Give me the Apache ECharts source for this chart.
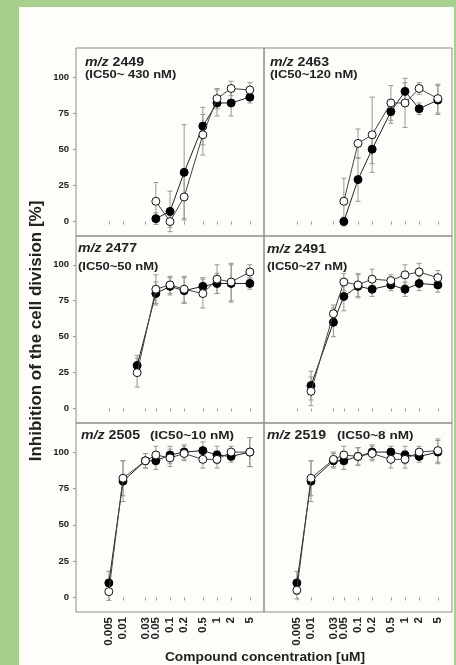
<!DOCTYPE html>
<html>
<head>
<meta charset="utf-8">
<script src="https://cdn.jsdelivr.net/npm/echarts@6/dist/echarts.min.js"></script>
<style>
  html, body { margin: 0; padding: 0; background: #a8d08d; }
  #frame { position: absolute; left: 19px; top: 7px; width: 435px; height: 658px; background: #fdfdfa; }
  #chart { position: absolute; left: 0; top: 0; width: 456px; height: 665px; }
</style>
</head>
<body>
<div id="frame"></div>
<div id="chart"></div>
<script>
// ---- data (concentration in uM, inhibition in %) ----
var xTickValues = [0.005, 0.01, 0.03, 0.05, 0.1, 0.2, 0.5, 1, 2, 5];
var xTickLabels = ['0.005', '0.01', '0.03', '0.05', '0.1', '0.2', '0.5', '1', '2', '5'];
var yTickValues = [0, 25, 50, 75, 100];

var panelNames = ['2449', '2463', '2477', '2491', '2505', '2519'];
var panelIC50 = ['(IC50~ 430 nM)', '(IC50~120 nM)', '(IC50~50 nM)', '(IC50~27 nM)', '(IC50~10 nM)', '(IC50~8 nM)'];

var c2449 = [0.05, 0.1, 0.2, 0.5, 1, 2, 5];
var f2449 = [2, 7, 34, 66, 82, 82, 86];
var fe2449 = [4, 14, 33, 13, 9, 9, 4];
var o2449 = [14, 0, 17, 60, 85, 92, 91];
var oe2449 = [13, 4, 15, 14, 7, 5, 5];

var c2463 = [0.05, 0.1, 0.2, 0.5, 1, 2, 5];
var f2463 = [0, 29, 50, 76, 90, 78, 84];
var fe2463 = [3, 15, 10, 8, 6, 4, 10];
var o2463 = [14, 54, 60, 82, 82, 92, 85];
var oe2463 = [16, 10, 26, 12, 17, 4, 10];

var c2477 = [0.02, 0.05, 0.1, 0.2, 0.5, 1, 2, 5];
var f2477 = [30, 80, 85, 82, 85, 87, 87, 87];
var fe2477 = [7, 8, 6, 9, 6, 7, 13, 4];
var o2477 = [25, 83, 86, 83, 80, 90, 88, 95];
var oe2477 = [10, 10, 6, 9, 10, 10, 13, 5];

var c2491 = [0.01, 0.03, 0.05, 0.1, 0.2, 0.5, 1, 2, 5];
var f2491 = [16, 60, 78, 85, 83, 86, 83, 87, 86];
var fe2491 = [10, 10, 10, 8, 5, 4, 5, 5, 5];
var o2491 = [12, 66, 88, 86, 90, 89, 93, 95, 91];
var oe2491 = [10, 6, 6, 8, 7, 4, 7, 6, 5];

var c2505 = [0.005, 0.01, 0.03, 0.05, 0.1, 0.2, 0.5, 1, 2, 5];
var f2505 = [10, 80, 94, 94, 98, 100, 101, 98, 97, 100];
var fe2505 = [8, 14, 5, 6, 6, 5, 6, 6, 4, 10];
var o2505 = [4, 82, 94, 98, 96, 99, 95, 95, 100, 100];
var oe2505 = [6, 12, 5, 6, 6, 5, 6, 6, 4, 10];

var c2519 = [0.005, 0.01, 0.03, 0.05, 0.1, 0.2, 0.5, 1, 2, 5];
var f2519 = [10, 80, 94, 94, 97, 100, 100, 98, 97, 100];
var fe2519 = [8, 14, 5, 6, 6, 5, 4, 6, 4, 8];
var o2519 = [5, 82, 95, 98, 97, 99, 95, 95, 100, 101];
var oe2519 = [6, 12, 5, 6, 6, 5, 6, 6, 4, 8];

var panels = [
  { c: c2449, f: f2449, fe: fe2449, o: o2449, oe: oe2449 },
  { c: c2463, f: f2463, fe: fe2463, o: o2463, oe: oe2463 },
  { c: c2477, f: f2477, fe: fe2477, o: o2477, oe: oe2477 },
  { c: c2491, f: f2491, fe: fe2491, o: o2491, oe: oe2491 },
  { c: c2505, f: f2505, fe: fe2505, o: o2505, oe: oe2505 },
  { c: c2519, f: f2519, fe: fe2519, o: o2519, oe: oe2519 }
];

// ---- layout ----
var FONT = '"Liberation Sans", Arial, sans-serif';
var colLeft = [76, 264];
var colW = 188;
var rowTop = [48, 236, 423];
var rowH = [188, 187, 189];
// [x, y] of name line and IC50 line (centres)
var namePos = [[85, 62.5], [270, 62.7], [78, 249], [267, 250], [81, 436], [267, 436]];
var icPos = [[85, 74.5], [270, 74.5], [78, 266.5], [267, 267.3], [150, 436], [337, 436]];
var SX = 1.18;

var chart = echarts.init(document.getElementById('chart'), null, { renderer: 'canvas' });

function zip(xs, ys) { return xs.map(function (x, i) { return [x, ys[i]]; }); }
function errData(xs, ys, es) { return xs.map(function (x, i) { return [x, ys[i] - es[i], ys[i] + es[i]]; }); }

function errItem(params, api) {
  var x = api.value(0), lo = api.value(1), hi = api.value(2);
  var p1 = api.coord([x, hi]);
  var p2 = api.coord([x, lo]);
  var hw = 2.5;
  var st = { stroke: '#969696', lineWidth: 1 };
  return {
    type: 'group',
    children: [
      { type: 'line', shape: { x1: p1[0], y1: p1[1], x2: p2[0], y2: p2[1] }, style: st },
      { type: 'line', shape: { x1: p1[0] - hw, y1: p1[1], x2: p1[0] + hw, y2: p1[1] }, style: st },
      { type: 'line', shape: { x1: p2[0] - hw, y1: p2[1], x2: p2[0] + hw, y2: p2[1] }, style: st }
    ]
  };
}

var grids = [], xAxes = [], yAxes = [], series = [], graphics = [];
panels.forEach(function (p, i) {
  var r = Math.floor(i / 2), c = i % 2;
  grids.push({
    left: colLeft[c], top: rowTop[r], width: colW, height: rowH[r],
    show: true, borderColor: '#8c8c8c', borderWidth: 1, backgroundColor: 'transparent'
  });
  xAxes.push({
    gridIndex: i, type: 'log', logBase: 10, min: 0.001, max: 10,
    axisLine: { show: false },
    splitLine: { show: false },
    minorTick: { show: false },
    axisTick: { show: true, inside: false, length: 3, customValues: xTickValues, lineStyle: { color: '#999' } },
    axisLabel: {
      show: r === 2, rotate: 90, margin: 5, fontSize: 11.5, fontWeight: 'bold', color: '#222', fontFamily: FONT,
      customValues: xTickValues,
      formatter: function (v) {
        for (var k = 0; k < xTickValues.length; k++) {
          if (Math.abs(Math.log10(v) - Math.log10(xTickValues[k])) < 1e-6) return xTickLabels[k];
        }
        return '';
      }
    }
  });
  yAxes.push({
    gridIndex: i, type: 'value', min: -10, max: 120,
    axisLine: { show: false },
    splitLine: { show: false },
    axisTick: { show: c === 0, inside: false, length: 3, customValues: yTickValues, lineStyle: { color: '#999' } },
    axisLabel: {
      show: c === 0, margin: 7, fontSize: 9.5, fontWeight: 'bold', color: '#222', fontFamily: FONT,
      customValues: yTickValues
    }
  });
  series.push({
    type: 'custom', xAxisIndex: i, yAxisIndex: i, renderItem: errItem, z: 1,
    encode: { x: 0, y: [1, 2] }, data: errData(p.c, p.f, p.fe), silent: true
  });
  series.push({
    type: 'custom', xAxisIndex: i, yAxisIndex: i, renderItem: errItem, z: 1,
    encode: { x: 0, y: [1, 2] }, data: errData(p.c, p.o, p.oe), silent: true
  });
  series.push({
    type: 'line', xAxisIndex: i, yAxisIndex: i, z: 3, data: zip(p.c, p.f),
    symbol: 'circle', symbolSize: 8, showAllSymbol: true,
    lineStyle: { color: '#222', width: 1 },
    itemStyle: { color: '#000', borderColor: '#000', borderWidth: 1 },
    animation: false
  });
  series.push({
    type: 'line', xAxisIndex: i, yAxisIndex: i, z: 4, data: zip(p.c, p.o),
    symbol: 'circle', symbolSize: 8, showAllSymbol: true,
    lineStyle: { color: '#444', width: 1 },
    itemStyle: { color: '#fff', borderColor: '#111', borderWidth: 1 },
    animation: false
  });
  graphics.push({
    type: 'text', x: namePos[i][0], y: namePos[i][1], scaleX: SX, z: 10,
    style: {
      text: '{i|m/z} {b|' + panelNames[i] + '}',
      align: 'left', verticalAlign: 'middle',
      rich: {
        i: { fontStyle: 'italic', fontWeight: 'bold', fontSize: 12, fontFamily: FONT, fill: '#222' },
        b: { fontWeight: 'bold', fontSize: 12, fontFamily: FONT, fill: '#222' }
      },
      font: 'bold 12px ' + FONT, fill: '#222'
    }
  });
  graphics.push({
    type: 'text', x: icPos[i][0], y: icPos[i][1], scaleX: SX, z: 10,
    style: {
      text: panelIC50[i], font: 'bold ' + (r === 2 ? 11.5 : 11) + 'px ' + FONT, fill: '#222',
      align: 'left', verticalAlign: 'middle'
    }
  });
});

graphics.push({
  type: 'text', x: 36, y: 331, rotation: Math.PI / 2,
  style: {
    text: 'Inhibition of the cell division [%]', font: 'bold 17px ' + FONT,
    fill: '#222', align: 'center', verticalAlign: 'middle'
  }
});
graphics.push({
  type: 'text', x: 265, y: 658, scaleX: 1.1,
  style: {
    text: 'Compound concentration [uM]', font: 'bold 12.5px ' + FONT,
    fill: '#222', align: 'center', verticalAlign: 'middle'
  }
});

chart.setOption({
  animation: false,
  backgroundColor: 'transparent',
  grid: grids,
  xAxis: xAxes,
  yAxis: yAxes,
  series: series,
  graphic: graphics
});
</script>
</body>
</html>
